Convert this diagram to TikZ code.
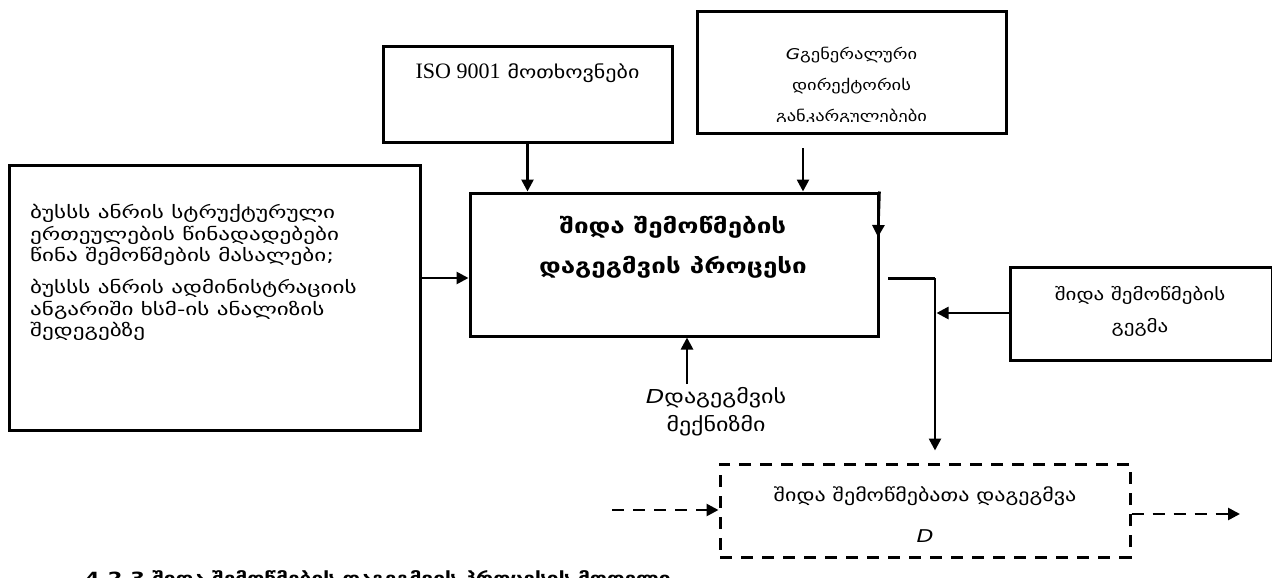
\documentclass[tikz,border=0pt]{standalone}
\usepackage{fontspec}
\setmainfont[FakeStretch=1.25]{DejaVu Sans}
\newfontfamily\widefont[FakeStretch=1.36]{DejaVu Sans}
\newfontfamily\isofont{Liberation Serif}
\usetikzlibrary{arrows.meta}
\newcommand{\fixskip}{\lineskiplimit=-100pt\lineskip=0pt}
\begin{document}
\begin{tikzpicture}[x=1pt,y=-1pt,
  box/.style={draw, line width=3pt, inner sep=0pt},
  dbox/.style={draw, line width=3pt, inner sep=0pt, dash pattern=on 12pt off 9pt},
  arr/.style={line width=2.6pt, -{Triangle[length=12pt,width=12pt]}},
  darr/.style={line width=2.6pt, dash pattern=on 12pt off 9pt, -{Triangle[length=12pt,width=12pt]}},
  plain/.style={line width=3pt},
  txt/.style={font=\fontsize{17.6}{30}\selectfont\fixskip, inner sep=0pt, align=center},
  ltxt/.style={font=\widefont\fontsize{17}{21.3}\selectfont\fixskip, inner sep=0pt, align=left, anchor=west},
  mtxt/.style={font=\fontsize{20.8}{40}\selectfont\bfseries\fixskip, inner sep=0pt, align=center}]
\useasboundingbox (0,0) rectangle (1272,578);
\fill[white] (0,0) rectangle (1272,578);

% boxes
\node[box, minimum width=411pt, minimum height=265pt] (left) at (214.5,297.5) {};
\node[box, minimum width=289pt, minimum height=95pt] (iso) at (527.5,94.5) {};
\node[box, minimum width=309pt, minimum height=121pt] (dir) at (851.5,72.5) {};
\node[box, minimum width=408pt, minimum height=143pt] (main) at (674,264.5) {};
\node[box, minimum width=262pt, minimum height=93pt] (plan) at (1141,313.5) {};
\node[dbox, minimum width=410pt, minimum height=93pt] (res) at (925,510.5) {};

% texts
\node[ltxt] (l1) at (30,235) {ბუსსს ანრის სტრუქტურული\\ერთეულების წინადადებები\\წინა შემოწმების მასალები;};
\node[ltxt] (l2) at (30,310) {ბუსსს ანრის ადმინისტრაციის\\ანგარიში ხსმ-ის ანალიზის\\შედეგებზე};
\node[txt] (isot) at (527.5,73) {{\isofont\fontsize{22}{30}\selectfont ISO 9001} მოთხოვნები};
\begin{scope}
\clip (700,14) rectangle (1004,121);
\node[txt, font=\fontsize{14.8}{31}\selectfont\fixskip] (dirt) at (851.5,86) {{\itshape G}გენერალური\\დირექტორის\\განკარგულებები};
\end{scope}
\node[mtxt] (maint) at (673,247) {შიდა შემოწმების\\დაგეგმვის პროცესი};
\node[txt, font=\fontsize{19.2}{28}\selectfont\fixskip] (mecht) at (716,412) {{\itshape D}დაგეგმვის\\მექნიზმი};
\node[txt, font=\fontsize{16.8}{32}\selectfont\fixskip] (plant) at (1140,311) {შიდა შემოწმების\\გეგმა};
\node[txt] (rest1) at (925,496) {შიდა შემოწმებათა დაგეგმვა};
\node[txt] (rest2) at (925,536) {{\itshape D}};

% caption (cut off at the bottom, as in the reference)
\begin{scope}
\clip (0,0) rectangle (1272,578);
\node[font=\fontsize{16.8}{24}\selectfont\bfseries, anchor=north west, inner sep=0pt] (cap) at (85,570) {4.2.3 შიდა შემოწმების დაგეგმვის პროცესის მოდელი};
\end{scope}

% helper coordinates
\coordinate (yL) at (0,278);
\coordinate (dstart) at (803,148);
\coordinate (redge) at (878,237);
\coordinate (o1) at (888,278);
\coordinate (o2) at (935,278);
\coordinate (yP) at (0,313);
\coordinate (mstart) at (687,384);
\coordinate (inS) at (612,510);
\coordinate (outE) at (1240,514);

% connectors
\draw[arr] (left.east |- yL) -- (main.west |- yL);
\draw[arr] (iso.south) -- (iso.south |- main.north);
\draw[arr] (dstart) -- (dstart |- main.north);
\draw[arr] (main.north east) -- (redge);
\draw[arr] (mstart) -- (mstart |- main.south);
\draw[plain] (o1) -- (o2);
\draw[arr, shorten >=12pt] (o2) -- (o2 |- res.north);
\draw[arr] (plan.west |- yP) -- ([xshift=1.5pt]o2 |- yP);
\draw[darr] (inS) -- (inS -| res.west);
\draw[darr] (res.east |- outE) -- (outE);
\end{tikzpicture}
\end{document}
